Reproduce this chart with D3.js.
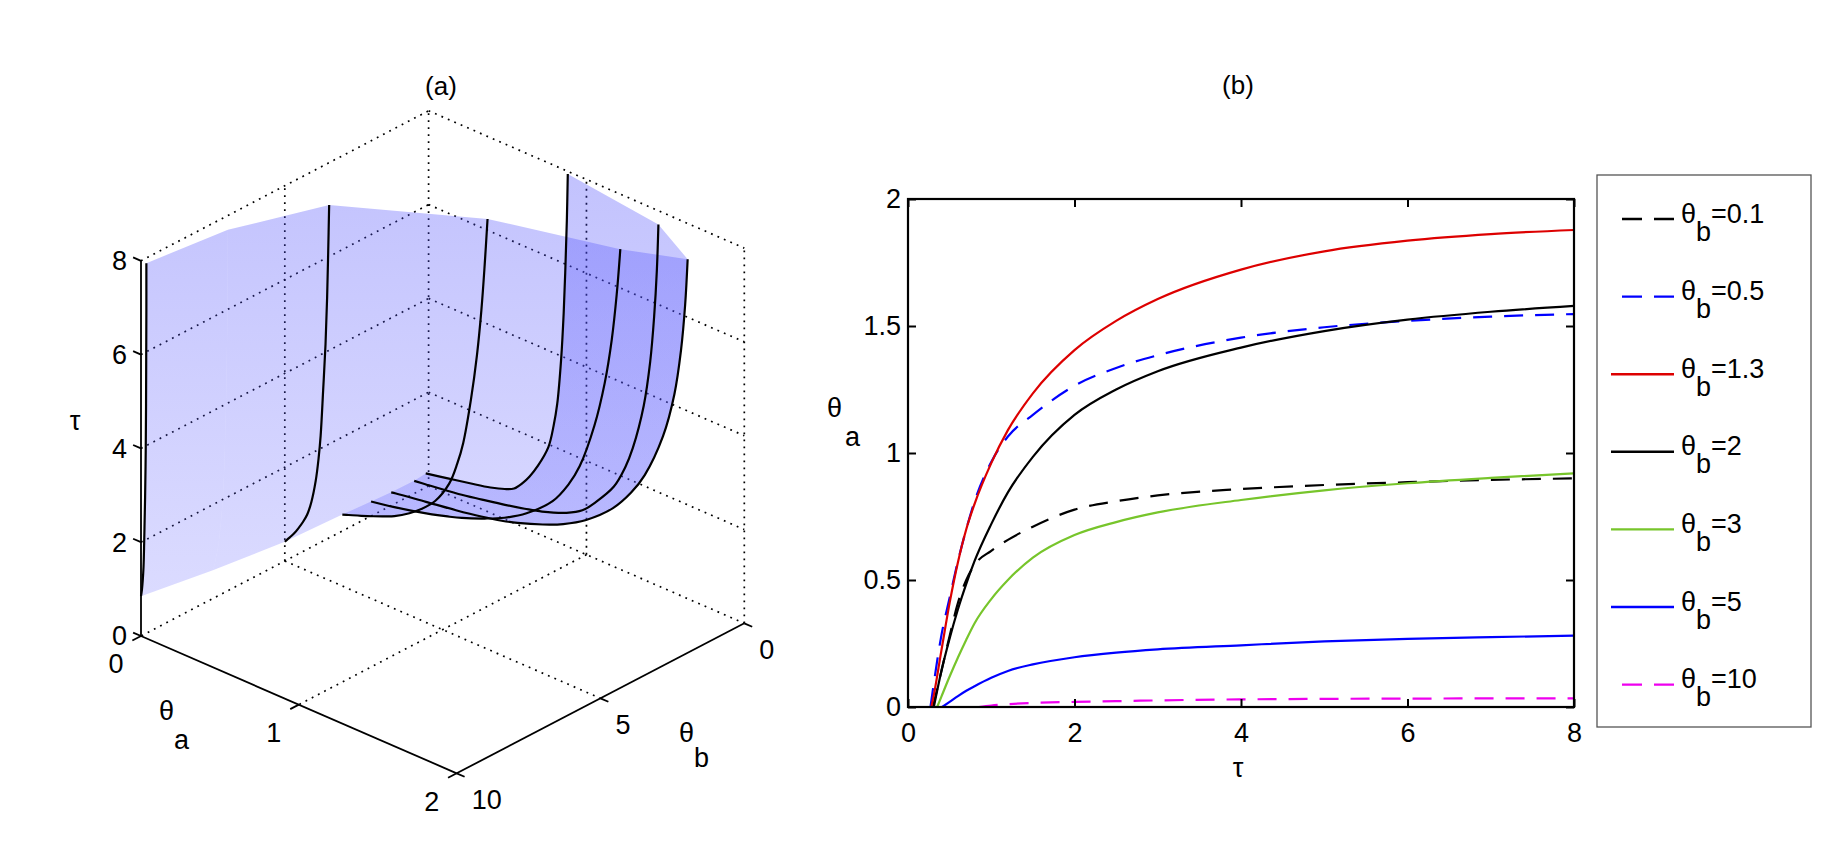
<!DOCTYPE html>
<html><head><meta charset="utf-8">
<script src="https://cdn.jsdelivr.net/npm/d3@7"></script>
<style>
body{margin:0;background:#fff}
text{font-family:"Liberation Sans",Arial,Helvetica,sans-serif;fill:#000}
</style>
</head><body>
<svg id="c" width="1822" height="852" xmlns="http://www.w3.org/2000/svg"></svg>
<script>
// ---------------- DATA ----------------
const thetaB        = [0.1, 0.5, 1.3, 2, 3, 5, 10];
const legendLabels  = ["0.1", "0.5", "1.3", "2", "3", "5", "10"];
const seriesColors  = ["#000000", "#0000ff", "#dd0000", "#000000", "#77c52b", "#0000ff", "#ee00ee"];
const seriesDashed  = [true, true, false, false, false, false, true];
const tauGrid       = [0.3, 0.4, 0.5, 0.6, 0.7, 0.8, 1.0, 1.2, 1.5, 2, 2.5, 3, 4, 5, 6, 7, 8];
const tauStart      = [0.30, 0.27, 0.28, 0.31, 0.35, 0.41, 0.85];
const thetaA_b01  = [null, 0.14, 0.28, 0.41, 0.50, 0.56, 0.615, 0.658, 0.71, 0.777, 0.81, 0.833, 0.858, 0.874, 0.885, 0.894, 0.90];
const thetaA_b05  = [0.07, 0.28, 0.43, 0.575, 0.70, 0.81, 0.965, 1.065, 1.15, 1.265, 1.335, 1.385, 1.454, 1.495, 1.52, 1.537, 1.547];
const thetaA_b13  = [0.03, 0.22, 0.41, 0.57, 0.70, 0.80, 0.96, 1.09, 1.235, 1.405, 1.52, 1.606, 1.722, 1.794, 1.836, 1.862, 1.878];
const thetaA_b2   = [null, 0.14, 0.27, 0.385, 0.485, 0.575, 0.72, 0.845, 0.985, 1.15, 1.25, 1.322, 1.415, 1.48, 1.525, 1.556, 1.579];
const thetaA_b3   = [null, 0.04, 0.12, 0.195, 0.265, 0.33, 0.425, 0.50, 0.588, 0.677, 0.728, 0.766, 0.815, 0.853, 0.881, 0.902, 0.92];
const thetaA_b5   = [null, null, 0.02, 0.043, 0.064, 0.082, 0.115, 0.142, 0.168, 0.196, 0.214, 0.227, 0.243, 0.258, 0.268, 0.275, 0.281];
const thetaA_b10  = [null, null, null, null, null, null, 0.006, 0.011, 0.016, 0.02, 0.023, 0.026, 0.03, 0.032, 0.033, 0.034, 0.034];
const seriesValues = [thetaA_b01, thetaA_b05, thetaA_b13, thetaA_b2, thetaA_b3, thetaA_b5, thetaA_b10];
// extra surface row of panel (a) between θb=5 and θb=10 (surface only, no curve)
const surfaceExtraB     = 7.5;
const surfaceExtraStart = 0.6;
const thetaA_b75  = [null, null, null, null, 0.008, 0.014, 0.025, 0.035, 0.045, 0.058, 0.067, 0.073, 0.081, 0.087, 0.091, 0.094, 0.095];

const tauTicks      = [0, 2, 4, 6, 8];
const thetaATicks2D = [0, 0.5, 1, 1.5, 2];
const thetaATicks3D = [0, 1, 2];
const thetaBTicks3D = [0, 5, 10];

// --------------- helpers ---------------
function toPoints(values, start){
  const pts = [[start, 0]];
  values.forEach((v,k)=>{ if(v!==null) pts.push([tauGrid[k], v]); });
  return pts;
}
function seriesPoints(i){ return toPoints(seriesValues[i], tauStart[i]); }

const svg = d3.select("#c");
svg.append("rect").attr("width",1822).attr("height",852).attr("fill","#fff");
const FS = 27;

// =============== PANEL (a) : 3-D view ===============
const ox = 428.6, oy = 486;
const aX = d3.scaleLinear().domain([0,2]).range([0,315.7]);
const aY = d3.scaleLinear().domain([0,2]).range([0,137.3]);
const bX = d3.scaleLinear().domain([0,10]).range([0,-287.6]);
const bY = d3.scaleLinear().domain([0,10]).range([0,150]);
const tY = d3.scaleLinear().domain([0,8]).range([0,-375.2]);
function P(a,b,t){ return [ox + aX(a) + bX(b), oy + aY(a) + bY(b) + tY(t)]; }

const gA = svg.append("g");

// dotted grid on back planes
const gridLines = [];
[0,1].forEach(a=>gridLines.push([P(a,0,0),P(a,10,0)]));
[0,5].forEach(b=>gridLines.push([P(0,b,0),P(2,b,0)]));
tauTicks.filter(t=>t>0).forEach(t=>{
  gridLines.push([P(0,10,t),P(0,0,t)]);
  gridLines.push([P(0,0,t),P(2,0,t)]);
});
[0,5].forEach(b=>gridLines.push([P(0,b,0),P(0,b,8)]));
[1,2].forEach(a=>gridLines.push([P(a,0,0),P(a,0,8)]));
gA.append("g").selectAll("line").data(gridLines).join("line")
  .attr("x1",d=>d[0][0]).attr("y1",d=>d[0][1]).attr("x2",d=>d[1][0]).attr("y2",d=>d[1][1])
  .attr("stroke","#000").attr("stroke-width",1.7).attr("stroke-dasharray","1.8,5.2");

// surface
const defs = svg.append("defs");
const grad = defs.append("linearGradient").attr("id","surfGrad")
  .attr("gradientUnits","userSpaceOnUse").attr("x1",0).attr("y1",110).attr("x2",0).attr("y2",640);
grad.append("stop").attr("offset","0").attr("stop-color","rgb(70,70,250)").attr("stop-opacity",0.35);
grad.append("stop").attr("offset","1").attr("stop-color","rgb(95,95,255)").attr("stop-opacity",0.21);

const line3 = d3.line().curve(d3.curveCatmullRom.alpha(0.5));
const curves3 = thetaB.map((b,i)=>seriesPoints(i).map(([t,a])=>P(a,b,t)));
const extraRow = toPoints(thetaA_b75, surfaceExtraStart).map(([t,a])=>P(a,surfaceExtraB,t));
const surfRows = curves3.slice(0,6).concat([extraRow, curves3[6]]);
for(let i=0;i<surfRows.length-1;i++){
  const fwd = line3(surfRows[i]);
  const back = line3(surfRows[i+1].slice().reverse());
  gA.append("path").attr("d", fwd + "L" + back.slice(1) + "Z")
    .attr("fill","url(#surfGrad)").attr("stroke","none");
}
// curves on surface
gA.append("g").selectAll("path").data(curves3).join("path")
  .attr("d",d=>line3(d)).attr("fill","none").attr("stroke","#000").attr("stroke-width",2.2);

// axes
const axA = gA.append("g").attr("stroke","#000").attr("stroke-width",1.8).attr("fill","none");
const axisSegs = [[P(0,10,0),P(0,10,8)],[P(0,10,0),P(2,10,0)],[P(2,10,0),P(2,0,0)]];
tauTicks.forEach(t=>axisSegs.push([P(0,10,t),P(-0.05,10,t)]));
thetaATicks3D.forEach(a=>axisSegs.push([P(a,10,0),P(a,10.3,0)]));
thetaBTicks3D.forEach(b=>axisSegs.push([P(2,b,0),P(2.05,b,0)]));
axA.selectAll("line").data(axisSegs).join("line")
  .attr("x1",d=>d[0][0]).attr("y1",d=>d[0][1]).attr("x2",d=>d[1][0]).attr("y2",d=>d[1][1]);

// tick labels (a)
gA.append("g").selectAll("text").data(tauTicks).join("text")
  .attr("x",d=>P(0,10,d)[0]-14).attr("y",d=>P(0,10,d)[1]).attr("dy","0.35em")
  .attr("text-anchor","end").attr("font-size",FS).text(d=>d);
gA.append("g").selectAll("text").data(thetaATicks3D).join("text")
  .attr("x",d=>P(d,10,0)[0]-25).attr("y",d=>P(d,10,0)[1]+28).attr("dy","0.35em")
  .attr("text-anchor","middle").attr("font-size",FS).text(d=>d);
gA.append("g").selectAll("text").data(thetaBTicks3D).join("text")
  .attr("x",d=>P(2,d,0)[0]+15).attr("y",d=>P(2,d,0)[1]+26).attr("dy","0.35em")
  .attr("text-anchor","start").attr("font-size",FS).text(d=>d);

// axis labels (a)
gA.append("text").attr("x",75).attr("y",430).attr("text-anchor","middle").attr("font-size",FS).text("τ");
const la = gA.append("text").attr("x",159).attr("y",720).attr("font-size",FS);
la.append("tspan").text("θ"); la.append("tspan").attr("dy",29).text("a");
const lb = gA.append("text").attr("x",679).attr("y",742).attr("font-size",FS);
lb.append("tspan").text("θ"); lb.append("tspan").attr("dy",25).text("b");
gA.append("text").attr("x",441).attr("y",95).attr("text-anchor","middle").attr("font-size",26).text("(a)");

// =============== PANEL (b) : 2-D plot ===============
const x = d3.scaleLinear().domain([0,8]).range([908,1574]);
const y = d3.scaleLinear().domain([0,2]).range([707,199]);
const gB = svg.append("g");

const line2 = d3.line().x(d=>x(d[0])).y(d=>y(d[1])).curve(d3.curveMonotoneX);
gB.append("g").selectAll("path").data(thetaB.map((b,i)=>i)).join("path")
  .attr("d",i=>line2(seriesPoints(i)))
  .attr("fill","none").attr("stroke",i=>seriesColors[i]).attr("stroke-width",2.2)
  .attr("stroke-dasharray",i=>seriesDashed[i]?"19,12":null);

function styleAxis(g){
  g.select(".domain").remove();
  g.selectAll(".tick line").attr("stroke","#000").attr("stroke-width",2);
  g.selectAll(".tick text").attr("font-size",FS).attr("font-family","Liberation Sans,Arial,sans-serif").attr("fill","#000");
}
gB.append("g").attr("transform","translate(0,707)")
  .call(d3.axisBottom(x).tickValues(tauTicks).tickSize(-8).tickPadding(16).tickFormat(d=>String(d))).call(styleAxis);
gB.append("g").attr("transform","translate(0,199)")
  .call(d3.axisTop(x).tickValues(tauTicks).tickSize(-8).tickFormat("")).call(styleAxis);
gB.append("g").attr("transform","translate(908,0)")
  .call(d3.axisLeft(y).tickValues(thetaATicks2D).tickSize(-8).tickPadding(7).tickFormat(d=>String(d))).call(styleAxis);
gB.append("g").attr("transform","translate(1574,0)")
  .call(d3.axisRight(y).tickValues(thetaATicks2D).tickSize(-8).tickFormat("")).call(styleAxis);
gB.append("rect").attr("x",908).attr("y",199).attr("width",666).attr("height",508)
  .attr("fill","none").attr("stroke","#000").attr("stroke-width",2.2);

gB.append("text").attr("x",1238).attr("y",777).attr("text-anchor","middle").attr("font-size",FS).text("τ");
const ly = gB.append("text").attr("x",827).attr("y",417).attr("font-size",FS);
ly.append("tspan").text("θ"); ly.append("tspan").attr("x",845).attr("dy",29).text("a");
gB.append("text").attr("x",1238).attr("y",94).attr("text-anchor","middle").attr("font-size",26).text("(b)");

// legend
const lg = svg.append("g");
lg.append("rect").attr("x",1597).attr("y",175).attr("width",214).attr("height",552)
  .attr("fill","#fff").attr("stroke","#555").attr("stroke-width",1.3);
const ent = lg.selectAll("g.e").data(thetaB.map((b,i)=>i)).join("g").attr("class","e")
  .attr("transform",i=>`translate(0,${219 + i*77.6})`);
ent.append("line").attr("x1",1674).attr("x2",1611).attr("y1",0).attr("y2",0)
  .attr("stroke",i=>seriesColors[i]).attr("stroke-width",2.4)
  .attr("stroke-dasharray",i=>seriesDashed[i]?"20,12":null);
const et = ent.append("text").attr("x",1681).attr("y",3.5).attr("font-size",FS);
et.append("tspan").text("θ");
et.append("tspan").attr("dy",18).text("b");
et.append("tspan").attr("dy",-18).text(i=>"="+legendLabels[i]);
</script>
</body></html>
